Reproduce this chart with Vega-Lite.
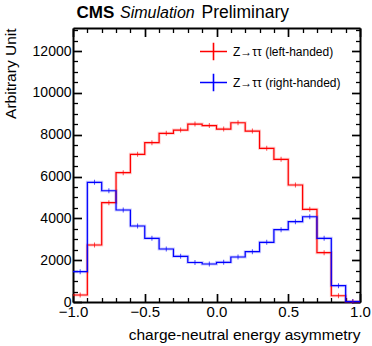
{
  "$schema": "https://vega.github.io/schema/vega-lite/v6.json",
  "width": 287,
  "height": 274,
  "autosize": "none",
  "padding": {"left": 73, "top": 28, "right": 12, "bottom": 44},
  "background": "white",
  "config": {
    "font": "Liberation Sans",
    "view": {"stroke": null},
    "axis": {"grid": false, "labelColor": "black", "titleColor": "black", "tickColor": "black", "domainColor": "black", "labelFlush": false, "labelOverlap": false, "labelFont": "Liberation Sans", "titleFont": "Liberation Sans", "titleFontWeight": "normal"},
    "legend": {"symbolType": "M-1,0H1M0,-0.65V0.65", "symbolSize": 729, "symbolStrokeWidth": 1.6, "symbolFillColor": "transparent", "symbolOpacity": 1}
  },
  "datasets": {
    "h": [
      {"s": "Z→ττ (left-handed)", "lo": -1.0, "xc": -0.95, "v": 335},
      {"s": "Z→ττ (left-handed)", "lo": -0.9, "xc": -0.85, "v": 2725},
      {"s": "Z→ττ (left-handed)", "lo": -0.8, "xc": -0.75, "v": 4747},
      {"s": "Z→ττ (left-handed)", "lo": -0.7, "xc": -0.65, "v": 6181},
      {"s": "Z→ττ (left-handed)", "lo": -0.6, "xc": -0.55, "v": 7060},
      {"s": "Z→ττ (left-handed)", "lo": -0.5, "xc": -0.45, "v": 7615},
      {"s": "Z→ττ (left-handed)", "lo": -0.4, "xc": -0.35, "v": 8064},
      {"s": "Z→ττ (left-handed)", "lo": -0.3, "xc": -0.25, "v": 8222},
      {"s": "Z→ττ (left-handed)", "lo": -0.2, "xc": -0.15, "v": 8508},
      {"s": "Z→ττ (left-handed)", "lo": -0.1, "xc": -0.05, "v": 8437},
      {"s": "Z→ττ (left-handed)", "lo": 0.0, "xc": 0.05, "v": 8269},
      {"s": "Z→ττ (left-handed)", "lo": 0.1, "xc": 0.15, "v": 8571},
      {"s": "Z→ττ (left-handed)", "lo": 0.2, "xc": 0.25, "v": 8174},
      {"s": "Z→ττ (left-handed)", "lo": 0.3, "xc": 0.35, "v": 7347},
      {"s": "Z→ττ (left-handed)", "lo": 0.4, "xc": 0.45, "v": 6821},
      {"s": "Z→ττ (left-handed)", "lo": 0.5, "xc": 0.55, "v": 5593},
      {"s": "Z→ττ (left-handed)", "lo": 0.6, "xc": 0.65, "v": 4431},
      {"s": "Z→ττ (left-handed)", "lo": 0.7, "xc": 0.75, "v": 2357},
      {"s": "Z→ττ (left-handed)", "lo": 0.8, "xc": 0.85, "v": 300},
      {"s": "Z→ττ (left-handed)", "lo": 0.9, "xc": 0.95, "v": 20},
      {"s": "Z→ττ (left-handed)", "lo": 1.0, "xc": null, "v": 20},
      {"s": "Z→ττ (right-handed)", "lo": -1.0, "xc": -0.95, "v": 1450},
      {"s": "Z→ττ (right-handed)", "lo": -0.9, "xc": -0.85, "v": 5722},
      {"s": "Z→ττ (right-handed)", "lo": -0.8, "xc": -0.75, "v": 5320},
      {"s": "Z→ττ (right-handed)", "lo": -0.7, "xc": -0.65, "v": 4398},
      {"s": "Z→ττ (right-handed)", "lo": -0.6, "xc": -0.55, "v": 3633},
      {"s": "Z→ττ (right-handed)", "lo": -0.5, "xc": -0.45, "v": 3045},
      {"s": "Z→ττ (right-handed)", "lo": -0.4, "xc": -0.35, "v": 2533},
      {"s": "Z→ττ (right-handed)", "lo": -0.3, "xc": -0.25, "v": 2184},
      {"s": "Z→ττ (right-handed)", "lo": -0.2, "xc": -0.15, "v": 1888},
      {"s": "Z→ττ (right-handed)", "lo": -0.1, "xc": -0.05, "v": 1816},
      {"s": "Z→ττ (right-handed)", "lo": 0.0, "xc": 0.05, "v": 1898},
      {"s": "Z→ττ (right-handed)", "lo": 0.1, "xc": 0.15, "v": 2151},
      {"s": "Z→ττ (right-handed)", "lo": 0.2, "xc": 0.25, "v": 2404},
      {"s": "Z→ττ (right-handed)", "lo": 0.3, "xc": 0.35, "v": 2854},
      {"s": "Z→ττ (right-handed)", "lo": 0.4, "xc": 0.45, "v": 3456},
      {"s": "Z→ττ (right-handed)", "lo": 0.5, "xc": 0.55, "v": 3838},
      {"s": "Z→ττ (right-handed)", "lo": 0.6, "xc": 0.65, "v": 4077},
      {"s": "Z→ττ (right-handed)", "lo": 0.7, "xc": 0.75, "v": 3045},
      {"s": "Z→ττ (right-handed)", "lo": 0.8, "xc": 0.85, "v": 780},
      {"s": "Z→ττ (right-handed)", "lo": 0.9, "xc": 0.95, "v": 20},
      {"s": "Z→ττ (right-handed)", "lo": 1.0, "xc": null, "v": 20}
    ]
  },
  "data": {"name": "h"},
  "layer": [
    {
      "mark": {"type": "line", "interpolate": "step-after", "strokeWidth": 3, "opacity": 0.2},
      "encoding": {
        "x": {"field": "lo", "type": "quantitative", "scale": {"domain": [-1, 1], "nice": false, "zero": false},
              "axis": {"orient": "bottom", "values": [-0.9, -0.8, -0.7, -0.6, -0.4, -0.3, -0.2, -0.1, 0.1, 0.2, 0.3, 0.4, 0.6, 0.7, 0.8, 0.9], "labels": false, "domain": false, "tickSize": -4.5, "tickWidth": 1.3, "title": null}},
        "y": {"field": "v", "type": "quantitative", "scale": {"domain": [0, 13100], "nice": false, "zero": true},
              "axis": {"orient": "left", "values": [500, 1000, 1500, 2500, 3000, 3500, 4500, 5000, 5500, 6500, 7000, 7500, 8500, 9000, 9500, 10500, 11000, 11500, 12500, 13000], "labels": false, "domain": false, "tickSize": -4.5, "tickWidth": 1.3, "title": null}},
        "color": {"field": "s", "type": "nominal", "scale": {"domain": ["Z→ττ (left-handed)", "Z→ττ (right-handed)"], "range": ["#ff0000", "#0000ff"]},
                  "legend": {"title": null, "orient": "none", "legendX": 126, "legendY": 9, "padding": 0, "rowPadding": 4, "labelFontSize": 12, "labelOffset": 5, "labelColor": "black", "labelFont": "Liberation Sans", "symbolType": "M-1,0H1M0,-0.65V0.65", "symbolSize": 729, "symbolStrokeWidth": 1.6, "symbolOpacity": 1}}
      }
    },
    {
      "mark": {"type": "line", "interpolate": "step-after", "strokeWidth": 1.2},
      "encoding": {
        "x": {"field": "lo", "type": "quantitative",
              "axis": {"orient": "bottom", "values": [-1, -0.5, 0, 0.5, 1], "format": ".1f", "ticks": false, "domain": true, "domainWidth": 2, "labelFontSize": 15, "labelPadding": 2, "title": "charge-neutral energy asymmetry", "titleFontSize": 15.5, "titleAnchor": "end", "titlePadding": 8}},
        "y": {"field": "v", "type": "quantitative",
              "axis": {"orient": "left", "values": [0, 2000, 4000, 6000, 8000, 10000, 12000], "format": "d", "ticks": false, "domain": true, "domainWidth": 2, "labelFontSize": 14, "labelPadding": 2, "title": "Arbitrary Unit", "titleFontSize": 15.5, "titleAnchor": "end", "titlePadding": 14}},
        "color": {"field": "s", "type": "nominal"}
      }
    },
    {
      "mark": {"type": "tick", "orient": "vertical", "size": 5, "thickness": 1},
      "encoding": {
        "x": {"field": "xc", "type": "quantitative",
              "axis": {"orient": "bottom", "values": [-1, -0.5, 0, 0.5, 1], "labels": false, "domain": false, "tickSize": -8.5, "tickWidth": 1.7, "title": null}},
        "y": {"field": "v", "type": "quantitative",
              "axis": {"orient": "left", "values": [0, 2000, 4000, 6000, 8000, 10000, 12000], "labels": false, "domain": false, "tickSize": -8.5, "tickWidth": 1.7, "title": null}},
        "color": {"field": "s", "type": "nominal"}
      }
    },
    {
      "data": {"values": [{}]},
      "mark": {"type": "text", "text": "Simulation", "fontStyle": "italic", "fontSize": 16, "font": "Liberation Sans", "color": "black", "align": "left", "baseline": "alphabetic", "dx": 47, "dy": -10},
      "encoding": {
        "x": {"datum": -1, "type": "quantitative",
              "axis": {"orient": "top", "values": [-1, -0.5, 0, 0.5, 1], "labels": false, "domain": true, "domainWidth": 2, "tickSize": -8.5, "tickWidth": 1.7, "title": null}},
        "y": {"datum": 13100, "type": "quantitative",
              "axis": {"orient": "right", "values": [0, 2000, 4000, 6000, 8000, 10000, 12000], "labels": false, "domain": true, "domainWidth": 2, "tickSize": -8.5, "tickWidth": 1.7, "title": null}}
      }
    },
    {
      "data": {"values": [{}]},
      "mark": {"type": "text", "text": "Preliminary", "fontSize": 17.5, "font": "Liberation Sans", "color": "black", "align": "left", "baseline": "alphabetic", "dx": 128.5, "dy": -10},
      "encoding": {
        "x": {"datum": -1, "type": "quantitative",
              "axis": {"orient": "top", "values": [-0.9, -0.8, -0.7, -0.6, -0.4, -0.3, -0.2, -0.1, 0.1, 0.2, 0.3, 0.4, 0.6, 0.7, 0.8, 0.9], "labels": false, "domain": false, "tickSize": -4.5, "tickWidth": 1.3, "title": null}},
        "y": {"datum": 13100, "type": "quantitative",
              "axis": {"orient": "right", "values": [500, 1000, 1500, 2500, 3000, 3500, 4500, 5000, 5500, 6500, 7000, 7500, 8500, 9000, 9500, 10500, 11000, 11500, 12500, 13000], "labels": false, "domain": false, "tickSize": -4.5, "tickWidth": 1.3, "title": null}}
      }
    },
    {
      "data": {"values": [{}]},
      "mark": {"type": "text", "text": "CMS", "fontSize": 17, "fontWeight": "bold", "font": "Liberation Sans", "color": "black", "align": "left", "baseline": "alphabetic", "dx": 3.5, "dy": -10},
      "encoding": {
        "x": {"datum": -1, "type": "quantitative", "axis": null},
        "y": {"datum": 13100, "type": "quantitative", "axis": null}
      }
    }
  ],
  "resolve": {"axis": {"x": "independent", "y": "independent"}}
}
